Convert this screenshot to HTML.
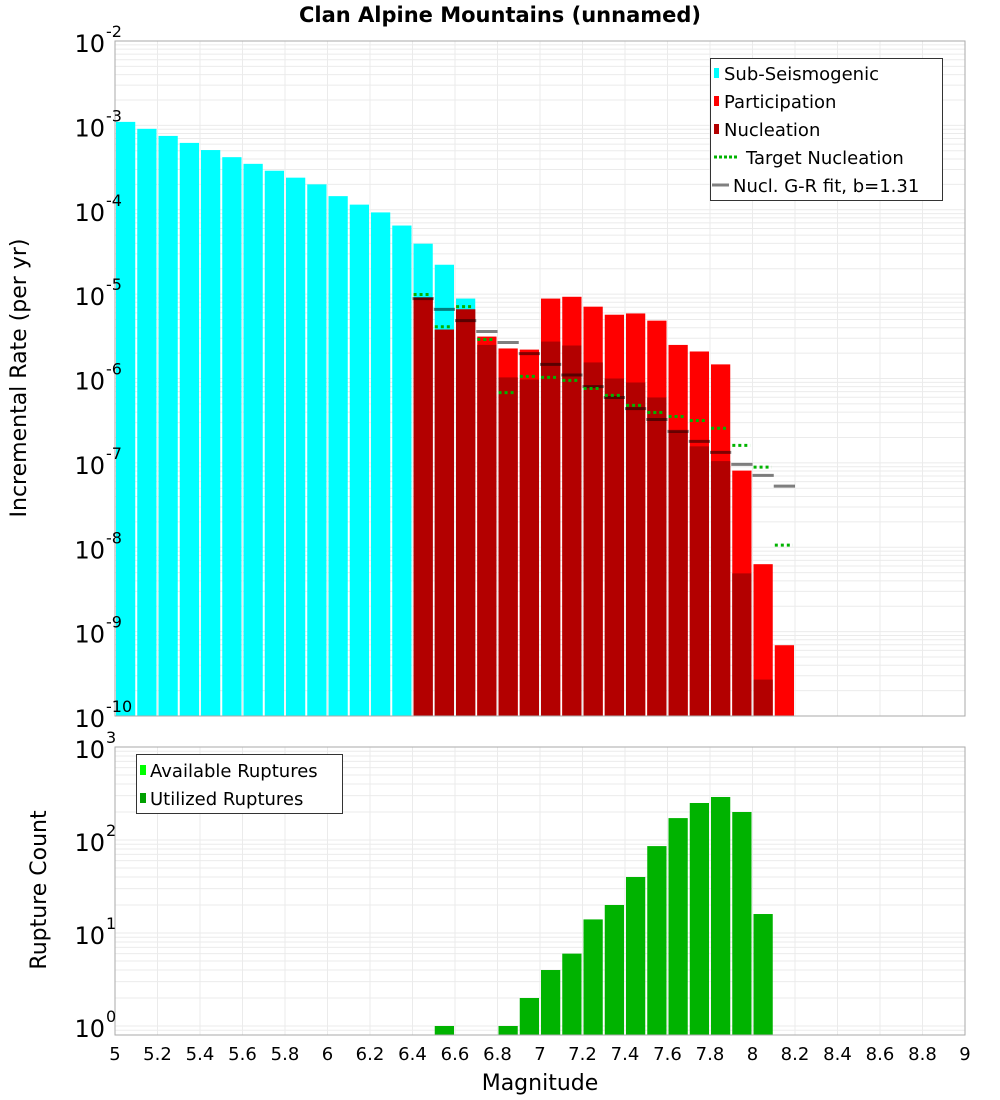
<!DOCTYPE html>
<html><head><meta charset="utf-8"><style>
html,body{margin:0;padding:0;background:#fff;}
svg{display:block;font-family:"DejaVu Sans","Liberation Sans",sans-serif;}
</style></head><body>
<svg id="chart" width="1000" height="1100" viewBox="0 0 1000 1100" xmlns="http://www.w3.org/2000/svg">
<text x="500" y="22" text-anchor="middle" font-size="21" font-weight="bold">Clan Alpine Mountains (unnamed)</text>
<g id="top"></g>
<g id="bot"></g>
<text transform="translate(26,378) rotate(-90)" text-anchor="middle" font-size="22">Incremental Rate (per yr)</text>
<text transform="translate(46,890) rotate(-90)" text-anchor="middle" font-size="22">Rupture Count</text>
<text x="540" y="1090" text-anchor="middle" font-size="22">Magnitude</text>
</svg>
<script>
// ---- data ----
const subMags = [5.05,5.15,5.25,5.35,5.45,5.55,5.65,5.75,5.85,5.95,6.05,6.15,6.25,6.35,6.45,6.55,6.65];
const subRates = [1.1e-3,9.1e-4,7.5e-4,6.2e-4,5.1e-4,4.2e-4,3.5e-4,2.9e-4,2.4e-4,2.0e-4,1.45e-4,1.15e-4,9.3e-5,6.5e-5,3.96e-5,2.23e-5,8.85e-6];
const supMags = [6.45,6.55,6.65,6.75,6.85,6.95,7.05,7.15,7.25,7.35,7.45,7.55,7.65,7.75,7.85,7.95,8.05,8.15];
const partRates = [9.1e-6,3.8e-6,6.6e-6,3.14e-6,2.27e-6,2.2e-6,8.85e-6,9.3e-6,7.1e-6,5.7e-6,5.9e-6,4.85e-6,2.5e-6,2.09e-6,1.47e-6,8.1e-8,6.3e-9,6.9e-10];
const nuclRates = [9.1e-6,3.8e-6,6.6e-6,2.5e-6,1.03e-6,9.7e-7,2.74e-6,2.46e-6,1.55e-6,1.0e-6,8.97e-7,5.96e-7,2.36e-7,1.57e-7,1.05e-7,4.9e-9,2.7e-10,1e-11];
const targetRates = [9.9e-6,4.1e-6,7.1e-6,2.9e-6,6.8e-7,1.06e-6,1.03e-6,9.5e-7,7.6e-7,6.3e-7,4.8e-7,3.96e-7,3.55e-7,3.18e-7,2.57e-7,1.61e-7,8.9e-8,1.06e-8];
const grRates = [8.85e-6,6.6e-6,4.85e-6,3.6e-6,2.67e-6,1.97e-6,1.47e-6,1.1e-6,8.0e-7,5.96e-7,4.4e-7,3.27e-7,2.36e-7,1.8e-7,1.33e-7,9.6e-8,7.1e-8,5.3e-8];
const cntMags = [6.55,6.85,6.95,7.05,7.15,7.25,7.35,7.45,7.55,7.65,7.75,7.85,7.95,8.05];
const cntVals = [1,1,2,4,6,14,20,40,86,172,250,290,200,16];
const xTicks = [5,5.2,5.4,5.6,5.8,6,6.2,6.4,6.6,6.8,7,7.2,7.4,7.6,7.8,8,8.2,8.4,8.6,8.8,9];
const topDecades = [-2,-3,-4,-5,-6,-7,-8,-9,-10];
const botDecades = [3,2,1,0];

const NS = "http://www.w3.org/2000/svg";
function mk(parent, tag, attrs){const e=document.createElementNS(NS,tag);for(const k in attrs)e.setAttribute(k,attrs[k]);parent.appendChild(e);return e;}
const L=115,R=965;
const x = m => L + (m-5)*(R-L)/4;
// top axis
const T1=41,B1=716;
const yT = v => T1 + (-2 - Math.log10(v))*(B1-T1)/8;
// bottom axis
const T2=747,B2=1035;
const yB = v => T2 + (3 - Math.log10(v))*93;

function grid(g, top, bot, decStart, decEnd, yf){
  for(let d=decEnd; d<decStart; d++){
    for(let k=1;k<10;k++){
      const yy=yf(k*Math.pow(10,d));
      if(yy<top-0.5||yy>bot+0.5) continue;
      const ln=mk(g,'line',{x1:L,x2:R,y1:yy,y2:yy,stroke:'#ebebeb','stroke-width':1});
      
      
    }
  }
  xTicks.forEach(t=>{
    const ln=mk(g,'line',{x1:x(t),x2:x(t),y1:top,y2:bot,stroke:'#ebebeb','stroke-width':1});
    
    
  });
}
function bar(g, m, v, yf, bot, fill, name){
  const yy=Math.max(yf(v), 0);
  if(yy>=bot) return;
  const r=mk(g,'rect',{x:x(m-0.05)+1,y:yy,width:(R-L)/40-2,height:bot-yy,fill:fill});
  
  
}
function decLabel(g, yy, p, name){
  const t=mk(g,'text',{x:105,y:yy+11,'text-anchor':'end','font-size':24});
  
  
  t.textContent='10';
  const s=mk(g,'text',{x:106,y:yy-4,'font-size':16});
  
  
  s.textContent=String(p);
}

// ---- top plot ----
const gt=document.getElementById('top');
mk(gt,'rect',{x:L,y:T1,width:R-L,height:B1-T1,fill:'#fff'});
grid(gt,T1,B1,-2,-10,yT);
subMags.forEach((m,i)=>bar(gt,m,subRates[i],yT,B1,'#00ffff','bar-subseismogenic'));
supMags.forEach((m,i)=>bar(gt,m,partRates[i],yT,B1,'#ff0000','bar-participation'));
supMags.forEach((m,i)=>bar(gt,m,nuclRates[i],yT,B1,'#b30000','bar-nucleation'));
supMags.forEach((m,i)=>{
  const yy=yT(grRates[i]);
  const ln=mk(gt,'line',{x1:x(m-0.05),x2:x(m+0.05),y1:yy,y2:yy,stroke:'rgba(0,0,0,0.5)','stroke-width':3});
  
  
});
supMags.forEach((m,i)=>{
  const yy=yT(targetRates[i]);
  const ln=mk(gt,'line',{x1:x(m-0.045),x2:x(m+0.04),y1:yy,y2:yy,stroke:'#00b300','stroke-width':3,'stroke-dasharray':'3,3'});
  
  
});
mk(gt,'rect',{x:L,y:T1,width:R-L,height:B1-T1,fill:'none',stroke:'#aaa','stroke-width':1});
topDecades.forEach(p=>decLabel(gt,yT(Math.pow(10,p)),p,'y-tick-label'));
// top legend
const lg=mk(gt,'g',{});


mk(lg,'rect',{x:710.5,y:58.5,width:232,height:142,fill:'#fff',stroke:'#333','stroke-width':1});
const legItems=[['Sub-Seismogenic','#00ffff','sq'],['Participation','#ff0000','sq'],['Nucleation','#b30000','sq'],['Target Nucleation','#00b300','dot'],['Nucl. G-R fit, b=1.31','#808080','line']];
legItems.forEach((it,i)=>{
  const cy=73+i*28;
  if(it[2]==='sq'){const r=mk(lg,'rect',{x:714,y:cy-5,width:5,height:10,fill:it[1]});}
  else if(it[2]==='dot'){const l=mk(lg,'line',{x1:714,x2:739,y1:cy,y2:cy,stroke:it[1],'stroke-width':3,'stroke-dasharray':'3,2'});}
  else {const l=mk(lg,'line',{x1:712,x2:729,y1:cy,y2:cy,stroke:it[1],'stroke-width':3});}
  const tx=it[2]==='sq'?724:(it[2]==='dot'?746:733);
  const t=mk(lg,'text',{x:tx,y:cy+7,'font-size':18});
  
  
  t.textContent=it[0];
});

// ---- bottom plot ----
const gb=document.getElementById('bot');
mk(gb,'rect',{x:L,y:T2,width:R-L,height:B2-T2,fill:'#fff'});
grid(gb,T2,B2,3,-1,yB);
cntMags.forEach((m,i)=>bar(gb,m,cntVals[i],yB,B2,'#00b300','bar-utilized-ruptures'));
mk(gb,'rect',{x:L,y:T2,width:R-L,height:B2-T2,fill:'none',stroke:'#aaa','stroke-width':1});
botDecades.forEach(p=>decLabel(gb,yB(Math.pow(10,p)),p,'y-tick-label-count'));
const lg2=mk(gb,'g',{});


mk(lg2,'rect',{x:136.5,y:754.5,width:206,height:59,fill:'#fff',stroke:'#333','stroke-width':1});
[['Available Ruptures','#00ff00'],['Utilized Ruptures','#00a000']].forEach((it,i)=>{
  const cy=770+i*28;
  const r=mk(lg2,'rect',{x:140,y:cy-5,width:6,height:10,fill:it[1]});
  
  
  const t=mk(lg2,'text',{x:150,y:cy+7,'font-size':18});
  
  
  t.textContent=it[0];
});
xTicks.forEach(tk=>{
  const t=mk(gb,'text',{x:x(tk),y:1060,'text-anchor':'middle','font-size':18});
  
  
  t.textContent=String(tk);
});
</script>
</body></html>
